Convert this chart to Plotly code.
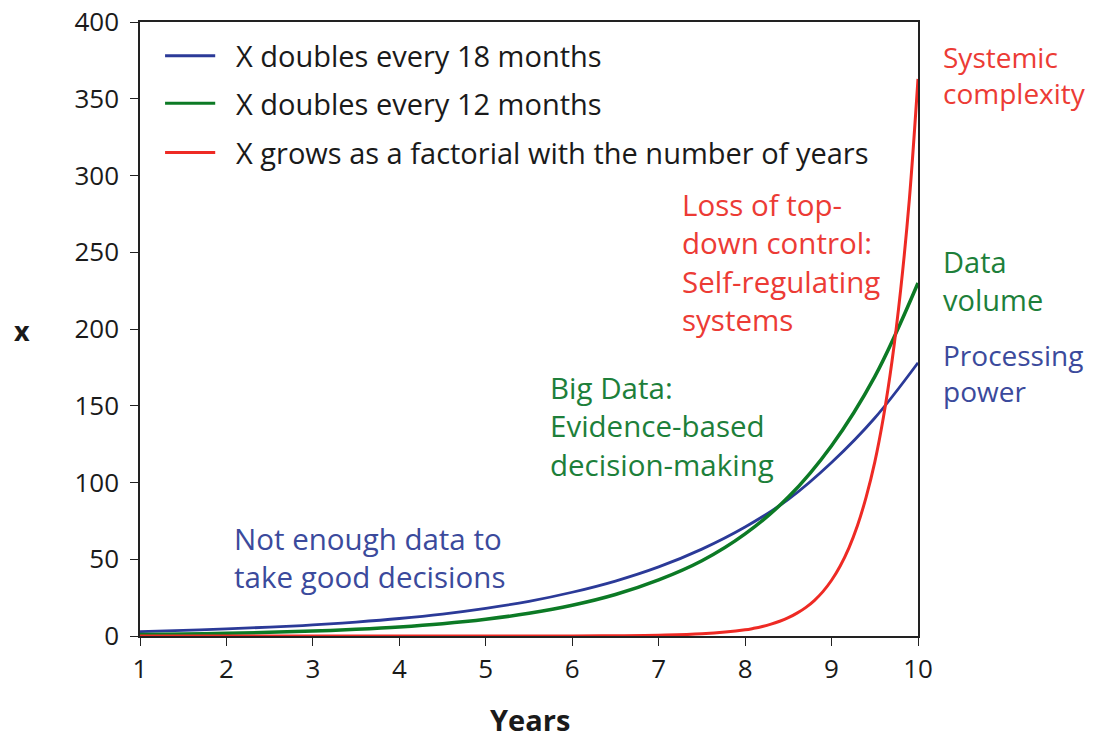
import plotly.graph_objects as go

# ---- data ----
years_half = [1, 1.5, 2, 2.5, 3, 3.5, 4, 4.5, 5, 5.5, 6, 6.5, 7, 7.5, 8, 8.5, 9, 9.5, 10]
x_18_months = [2.9, 3.6, 4.6, 5.8, 7.2, 9.1, 11.4, 14.3, 18.0, 22.6, 28.5, 35.8, 45.0, 56.6, 71.0, 89.0, 113.0, 142.0, 178.0]
x_12_months = [0.95, 1.3, 1.75, 2.4, 3.2, 4.4, 5.9, 8.0, 10.9, 14.8, 20.0, 27.0, 36.5, 49.0, 66.5, 90.5, 124.0, 169.0, 230.0]

years_fact = [1, 2, 3, 4, 5, 6, 6.5, 7, 7.5, 8, 8.1, 8.2, 8.3, 8.4, 8.5, 8.6, 8.7, 8.8, 8.9,
              9, 9.1, 9.2, 9.3, 9.4, 9.5, 9.6, 9.7, 9.8, 9.9, 10]
x_factorial = [0.0, 0.0, 0.0, 0.0, 0.01, 0.07, 0.2, 0.5, 1.4, 4.0, 5.0, 6.2, 7.7, 9.6, 11.9, 14.9, 18.5, 23.1, 28.9,
               36.3, 45.6, 57.3, 72.0, 90.5, 113.3, 142.5, 179.3, 225.8, 284.5, 362.9]

series_names = ["X doubles every 18 months", "X doubles every 12 months",
                "X grows as a factorial with the number of years"]
x_ticks = [1, 2, 3, 4, 5, 6, 7, 8, 9, 10]
y_ticks = [0, 50, 100, 150, 200, 250, 300, 350, 400]

BLUE = "#2b3a98"
GREEN = "#0c7a25"
RED = "#ee2a24"
BLUE_T = "#3b4a9c"
GREEN_T = "#1d7f3a"
RED_T = "#ec3b35"
INK = "#1a1a1a"
FONT = "Open Sans"

# the page places the figure 8px in from the window corner; work in window pixels
OFF = 8
W, H = 1097, 738
PL, PR, PT, PB = 140, 918, 22, 636          # plot box in window pixels
L, T = PL - OFF, PT - OFF
R = W - (PR - OFF)
B = H - (PB - OFF)
pw, ph = W - L - R, H - T - B

def px2paper(x, y):
    return (x - PL) / pw, 1 - (y - PT) / ph

fig = go.Figure()
fig.add_trace(go.Scatter(x=years_half, y=x_18_months, mode="lines", line=dict(color=BLUE, width=2.8, shape="spline"),
                         name=series_names[0], showlegend=False))
fig.add_trace(go.Scatter(x=years_half, y=x_12_months, mode="lines", line=dict(color=GREEN, width=3.5, shape="spline"),
                         name=series_names[1], showlegend=False))
fig.add_trace(go.Scatter(x=years_fact, y=x_factorial, mode="lines", line=dict(color=RED, width=3, shape="spline"),
                         name=series_names[2], showlegend=False))

# manual legend (line sample + label) in the top-left corner
leg_colors = [BLUE, GREEN, RED]
leg_y = [378, 347, 315]
for name, col, yy in zip(series_names, leg_colors, leg_y):
    fig.add_shape(type="line", xref="x", yref="y", x0=1.29, x1=1.87, y0=yy, y1=yy,
                  line=dict(color=col, width=3))
    fig.add_annotation(x=2.09, y=yy, xref="x", yref="y", text=name, showarrow=False,
                       xanchor="left", yanchor="middle", font=dict(family=FONT, size=29, color=INK))

for text, (x, y), col, fs in [
    ("Systemic<br>complexity", (941, 36), RED_T, 28),
    ("Data<br>volume", (941, 240), GREEN_T, 29),
    ("Processing<br>power", (941, 334), BLUE_T, 28),
    ("Loss of top-<br>down control:<br>Self-regulating<br>systems", (680, 182), RED_T, 29.5),
    ("Big Data:<br>Evidence-based<br>decision-making", (548, 365), GREEN_T, 29.5),
    ("Not enough data to<br>take good decisions", (232, 516), BLUE_T, 29.5),
]:
    a, b = px2paper(x, y)
    fig.add_annotation(x=a, y=b, xref="paper", yref="paper", text=text, showarrow=False,
                       xanchor="left", yanchor="top", align="left",
                       font=dict(family=FONT, size=fs, color=col))

# axis titles
ax, ay = px2paper(22, 330)
fig.add_annotation(x=ax, y=ay, xref="paper", yref="paper", text="<b>x</b>", showarrow=False,
                   xanchor="center", yanchor="middle", font=dict(size=27, family=FONT, color=INK))
tx, ty = px2paper(530, 719)
fig.add_annotation(x=tx, y=ty, xref="paper", yref="paper", text="<b>Years</b>", showarrow=False,
                   xanchor="center", yanchor="middle", font=dict(size=29, family=FONT, color=INK))

fig.update_layout(
    width=W, height=H,
    margin=dict(l=L, r=R, t=T, b=B, autoexpand=False),
    paper_bgcolor="white", plot_bgcolor="white",
    font=dict(family=FONT, color=INK),
)
fig.update_xaxes(range=[1, 10], tickvals=x_ticks, ticktext=[str(v) for v in x_ticks], automargin=False,
                 showgrid=False, zeroline=False, showline=True, linecolor="#222", linewidth=1.5, mirror=True,
                 ticks="outside", ticklen=8, tickcolor="#222", ticklabelstandoff=1, ticklabeloverflow="allow",
                 tickfont=dict(size=26, family=FONT, color=INK))
fig.update_yaxes(range=[0, 400], tickvals=y_ticks, ticktext=[str(v) for v in y_ticks], automargin=False,
                 showgrid=False, zeroline=False, showline=True, linecolor="#222", linewidth=1.5, mirror=True,
                 ticks="outside", ticklen=8, tickcolor="#222", ticklabelstandoff=6, ticklabeloverflow="allow",
                 tickfont=dict(size=26, family=FONT, color=INK))

fig.write_html("out.html")
